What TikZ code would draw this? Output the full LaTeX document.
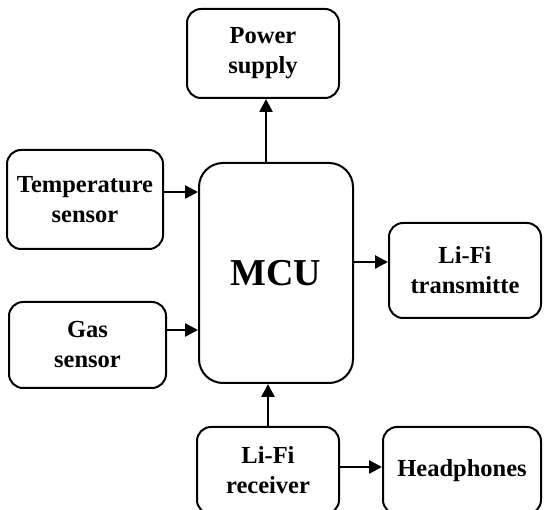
\documentclass[tikz,border=0pt]{standalone}
\usepackage{fontspec}
\setmainfont{Liberation Serif}
\usetikzlibrary{arrows.meta,calc}
\begin{document}
\begin{tikzpicture}[x=1pt,y=-1pt,
  blk/.style={draw=black,line width=2pt,rounded corners=14pt,align=center,
    font=\fontsize{24.5}{30}\selectfont\bfseries,inner sep=0pt},
  arr/.style={line width=2.6pt,-{Triangle[length=13pt,width=13pt]}}]
\useasboundingbox (0,0) rectangle (544,510);
\node[blk,minimum width=152pt,minimum height=89pt] (pw) at (263,53.5) {Power\\supply};
\node[blk,minimum width=156pt,minimum height=99pt] (temp) at (85,199.5) {Temperature\\sensor};
\node[blk,minimum width=154pt,minimum height=220pt,rounded corners=24pt,
  font=\fontsize{38}{40}\selectfont\bfseries] (mcu) at (276,273) {MCU};
\node[blk,minimum width=152pt,minimum height=95pt] (tx) at (465,270.5) {Li-Fi\\transmitte};
\node[blk,minimum width=157pt,minimum height=86pt] (gas) at (87.5,345) {Gas\\sensor};
\node[blk,minimum width=142pt,minimum height=87pt] (rx) at (268,470.5) {Li-Fi\\receiver};
\node[blk,minimum width=158pt,minimum height=87pt] (hp) at (462,470.5) {Headphones};
\draw[arr] ([yshift=7.5pt]temp.east) coordinate (a1) -- (a1 -| mcu.west);
\draw[arr] ([yshift=15pt]gas.east) coordinate (a2) -- (a2 -| mcu.west);
\coordinate (a3) at ([yshift=8.5pt]tx.west);
\draw[arr] (a3 -| mcu.east) -- (a3);
\coordinate (a4) at ([xshift=-10pt]mcu.north);
\draw[arr] (a4) -- (a4 |- pw.south);
\draw[arr] (rx.north) -- (rx.north |- mcu.south);
\draw[arr] ([yshift=3.5pt]rx.east) coordinate (a5) -- (a5 -| hp.west);
\end{tikzpicture}
\end{document}
